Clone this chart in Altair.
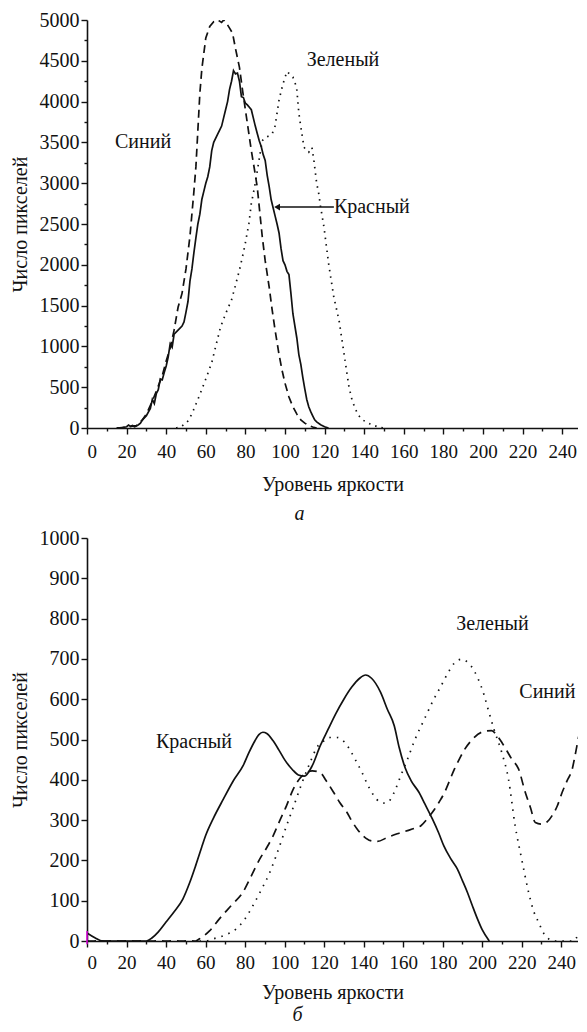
import altair as alt
import pandas as pd

FONT = "Liberation Serif, Times New Roman, Times, DejaVu Serif, serif"

# ---------- Chart a (top) ----------
a_red_x = [15, 18, 20, 21, 22, 23, 24, 25, 26, 27, 28, 30, 32, 33, 34, 35, 36, 37, 38, 39,
           40, 41, 42, 43, 44, 46, 48, 49, 50, 51, 52, 53, 54, 55, 56, 57, 58, 59, 60, 61,
           62, 63, 64, 66, 67, 68, 69, 70, 71, 72, 73, 74, 75, 76, 77, 78, 79, 80, 81, 82,
           83, 84, 85, 86, 87, 88, 89, 90, 91, 92, 93, 94, 95, 96, 97, 98, 99, 100, 101, 102,
           103, 104, 105, 106, 107, 108, 109, 110, 111, 112, 113, 114, 115, 116, 118, 120, 122]
a_red_y = [0, 5, 15, 35, 20, 30, 15, 25, 40, 60, 100, 150, 240, 350, 300, 420, 470, 600, 590, 680,
           760, 870, 1030, 990, 1150, 1200, 1250, 1300, 1420, 1550, 1800, 1950, 2150, 2330, 2500, 2620, 2800, 2900, 3000, 3080,
           3200, 3400, 3500, 3600, 3650, 3700, 3800, 3900, 4000, 4150, 4250, 4380, 4340, 4350, 4250, 4060, 4050, 3980, 3960, 3930,
           3900, 3800, 3700, 3610, 3520, 3450, 3350, 3280, 3100, 2960, 2800, 2700, 2600, 2500, 2390, 2200, 2050, 2000, 1920, 1880,
           1650, 1400, 1250, 1100, 900, 780, 620, 480, 350, 260, 200, 150, 100, 75, 40, 15, 0]

a_blue_x = [15, 20, 25, 28, 30, 33, 35, 38, 40, 42, 44, 46, 48, 50, 52, 54, 55, 56, 57, 58,
            60, 62, 64, 66, 68, 69, 70, 72, 73.5, 75, 77, 78.5, 80, 81.5, 83, 84.5, 86, 88.5, 90, 92,
            93.5, 95, 97, 98.5, 100, 102, 104, 106, 108, 110, 112, 114, 116]
a_blue_y = [0, 10, 30, 100, 170, 330, 450, 640, 820, 980, 1200, 1480, 1650, 1950, 2350, 2900, 3200, 3650, 4100, 4400,
            4780, 4920, 4980, 5000, 4970, 5000, 4980, 4900, 4840, 4650, 4420, 4150, 3900, 3650, 3400, 3180, 2950, 2350, 2050, 1730,
            1450, 1200, 900, 710, 550, 380, 260, 170, 100, 60, 30, 12, 0]

a_green_x = [45, 47.5, 50, 51.5, 54, 56.5, 60, 63, 65, 67.5, 70, 73, 75, 77, 79, 80, 81.8, 83, 85, 87,
             88.5, 90, 92, 93.6, 95, 97, 98.6, 100, 101.2, 102.5, 104, 105.5, 106, 107, 108, 109.6, 111, 112, 113.6, 114.6,
             116, 117, 118, 119.7, 122, 124.7, 127.3, 129.8, 132.3, 134, 136.5, 138.5, 140.7, 143, 147.5, 150]
a_green_y = [0, 15, 60, 100, 230, 380, 600, 800, 1000, 1240, 1400, 1570, 1750, 1935, 2150, 2270, 2510, 2750, 3000, 3300,
             3520, 3560, 3580, 3610, 3700, 4020, 4180, 4300, 4370, 4330, 4300, 4200, 4140, 3860, 3690, 3440, 3400, 3380, 3440, 3280,
             3000, 2880, 2710, 2460, 2020, 1600, 1320, 915, 506, 330, 180, 110, 78, 50, 8, 0]

a_lbl_text = ["Синий", "Зеленый"]
a_lbl_x = [28.3, 129.3]
a_lbl_y = [3507, 4508]
a_red_lbl = "Красный"
a_red_lbl_x = 124.7
a_red_lbl_y = 2707
a_arrow_x = [96.0, 124.7]

# ---------- Chart б (bottom) ----------
b_red_x = [0, 4, 8, 30, 33, 36, 40, 44, 48.5, 52, 55, 58, 60, 64, 69, 74, 79, 82, 85, 87,
           89, 91, 94, 97, 100, 104, 107, 110, 114, 118, 122, 126, 130, 134, 138, 141, 144, 148.6, 152, 155.5,
           158, 161, 164, 168, 171, 174.8, 178, 180.6, 184, 187.4, 190, 192.5, 195, 197.6, 200, 203.6]
b_red_y = [20, 8, 0, 0, 8, 22, 47, 72, 104, 145, 187, 232, 261, 305, 352, 397, 435, 468, 497, 512,
           518, 515, 498, 475, 450, 425, 412, 409, 435, 484, 525, 565, 600, 630, 652, 660, 652, 617, 575, 534,
           480, 430, 398, 369, 340, 303, 268, 236, 205, 179, 150, 121, 88, 55, 28, 0]

b_green_x = [0, 60, 63.6, 70, 75.5, 80, 84, 88, 92.5, 96, 101, 105, 109, 112.9, 116.3, 120, 123, 126.5, 130, 133,
             136, 139, 142, 145, 148.6, 151, 153.7, 156, 158.8, 162.2, 166, 170.8, 175, 179.2, 183, 186, 189.5, 193, 196, 198,
             201, 203, 206, 209.9, 213.3, 216.7, 220, 223.5, 226, 228.6, 231, 233.7, 236, 246, 249]
b_green_y = [0, 0, 5, 15, 30, 55, 88, 125, 170, 215, 286, 340, 395, 443, 480, 497, 505, 505, 495, 475,
             448, 420, 388, 362, 344, 342, 352, 375, 410, 451, 500, 551, 595, 633, 668, 690, 699, 690, 670, 650,
             610, 575, 525, 468, 402, 286, 203, 121, 75, 46, 20, 5, 0, 0, 20]

b_blue_x = [0, 55, 56.8, 62, 67, 73, 78.9, 83, 87.4, 91, 94.2, 97.5, 101, 104.4, 108, 111, 114, 118, 121, 124.8,
            128, 131.6, 134, 136.7, 140, 143.5, 147, 152, 157, 162.2, 166, 169, 172, 175.9, 178.5, 181, 183.5, 186, 188.5, 191.2,
            195, 199.7, 204.7, 207.5, 209.9, 212.5, 215, 218.4, 221.8, 224.5, 226.9, 230.3, 233, 235.4, 238, 240.5, 243, 245.6, 247, 249,
            251.5, 252.5]
b_blue_y = [0, 0, 5, 25, 55, 88, 121, 160, 203, 232, 261, 298, 336, 377, 405, 418, 422, 418, 398, 369,
            343, 319, 298, 278, 260, 249, 247, 257, 266, 274, 280, 286, 302, 327, 347, 369, 398, 427, 452, 476,
            500, 518, 522, 510, 493, 472, 451, 427, 369, 330, 294, 290, 296, 311, 335, 369, 398, 427, 460, 510,
            550, 565]

b_lbl_text = ["Красный", "Зеленый", "Синий"]
b_lbl_x = [54.1, 205.2, 233.0]
b_lbl_y = [493, 786, 617]
b_mark_x = [0]
b_mark_y = [-8]
b_mark_y2 = [25]

X_TITLE = "Уровень яркости"
Y_TITLE = "Число пикселей"


def x_axis(xmax, label_pad, title_pad):
    return alt.Axis(
        values=list(range(0, int(xmax) + 1, 10)),
        labelExpr="datum.value % 20 === 0 ? datum.label : ''",
        tickSize={"condition": {"test": "datum.value % 20 === 0", "value": 6}, "value": 3},
        format="d", labelOverlap=False, labelPadding=label_pad,
        title=X_TITLE, titlePadding=title_pad,
    )


def y_axis(major, minor, top, title_pad):
    return alt.Axis(
        values=list(range(0, top + 1, minor)),
        labelExpr=f"datum.value % {major} === 0 ? datum.label : ''",
        tickSize={"condition": {"test": f"datum.value % {major} === 0", "value": 6}, "value": 3},
        format="d", labelOverlap=False, labelPadding=2, labelFontSize=20,
        title=Y_TITLE, titlePadding=title_pad,
    )


def panel(series, labels, xdom, ymax, major, minor, w, h, xlp, xtp, ytp, caption, cap_dx, cap_off, extra=None):
    xs = alt.Scale(domain=xdom, nice=False, zero=False)
    ys = alt.Scale(domain=[0, ymax], nice=False)
    xenc = alt.X("x:Q", scale=xs, axis=x_axis(xdom[1], xlp, xtp))
    yenc = alt.Y("y:Q", scale=ys, axis=y_axis(major, minor, ymax, ytp))
    layers = []
    for xv, yv, dash, interp in series:
        df = pd.DataFrame({"x": xv, "y": yv})
        m = alt.Chart(df).mark_line(color="#111", strokeWidth=1.7, interpolate=interp,
                                    clip=True, **({"strokeDash": dash} if dash else {}))
        layers.append(m.encode(x=xenc, y=yenc))
    tdf = pd.DataFrame({"x": labels[1], "y": labels[2], "t": labels[0]})
    layers.append(alt.Chart(tdf).mark_text(font=FONT, fontSize=20, color="#111", align="center",
                                           baseline="middle").encode(x=xenc, y=yenc, text="t:N"))
    if extra:
        layers += extra(xenc, yenc)
    return alt.layer(*layers).properties(
        width=w, height=h,
        title=alt.TitleParams(caption, orient="bottom", font=FONT, fontSize=20, fontStyle="italic",
                              fontWeight="normal", anchor="middle", frame="group", dx=cap_dx,
                              offset=cap_off, color="#111"),
    )


def top_extra(xenc, yenc):
    adf = pd.DataFrame({"x": [a_arrow_x[0]], "x2": [a_arrow_x[1]], "y": [a_red_lbl_y]})
    rule = alt.Chart(adf).mark_rule(color="#111", strokeWidth=1.5).encode(
        x=xenc, x2="x2:Q", y=yenc)
    head = alt.Chart(adf).mark_point(shape="triangle-left", filled=True, color="#111",
                                     size=45, opacity=1).encode(x=xenc, y=yenc)
    ldf = pd.DataFrame({"x": [a_red_lbl_x], "y": [a_red_lbl_y], "t": [a_red_lbl]})
    lbl = alt.Chart(ldf).mark_text(font=FONT, fontSize=20, color="#111", align="left",
                                   baseline="middle").encode(x=xenc, y=yenc, text="t:N")
    return [rule, head, lbl]


def bottom_extra(xenc, yenc):
    mdf = pd.DataFrame({"x": b_mark_x, "y": b_mark_y, "y2": b_mark_y2})
    return [alt.Chart(mdf).mark_rule(color="#e000e0", strokeWidth=1.5).encode(
        x=xenc, y=alt.Y("y:Q"), y2="y2:Q")]


top = panel(
    [(a_green_x, a_green_y, [1.5, 5], "linear"),
     (a_blue_x, a_blue_y, [8, 5], "linear"),
     (a_red_x, a_red_y, None, "linear")],
    (a_lbl_text, a_lbl_x, a_lbl_y), [0, 248], 5000, 500, 250, 491, 408,
    8, 13, 9, "а", -33, 10, top_extra)

bottom = panel(
    [(b_green_x, b_green_y, [1.5, 6], "monotone"),
     (b_blue_x, b_blue_y, [9, 6], "monotone"),
     (b_red_x, b_red_y, None, "monotone")],
    (b_lbl_text, b_lbl_x, b_lbl_y), [0, 248.5], 1000, 100, 50, 491, 403,
    6, 10, 9, "б", -35, 3, bottom_extra)

chart = alt.vconcat(top, bottom, spacing=4).configure(
    padding={"left": 2, "top": 2, "right": 0, "bottom": 0},
    font=FONT,
).configure_view(stroke=None).configure_axis(
    grid=False, domainColor="#111", domainWidth=1.6, tickColor="#111", tickWidth=1.4,
    labelColor="#111", labelFont=FONT, labelFontSize=19,
    titleColor="#111", titleFont=FONT, titleFontSize=20, titleFontWeight="normal",
)

chart.save("out.html", embed_options={"renderer": "svg", "actions": False})
